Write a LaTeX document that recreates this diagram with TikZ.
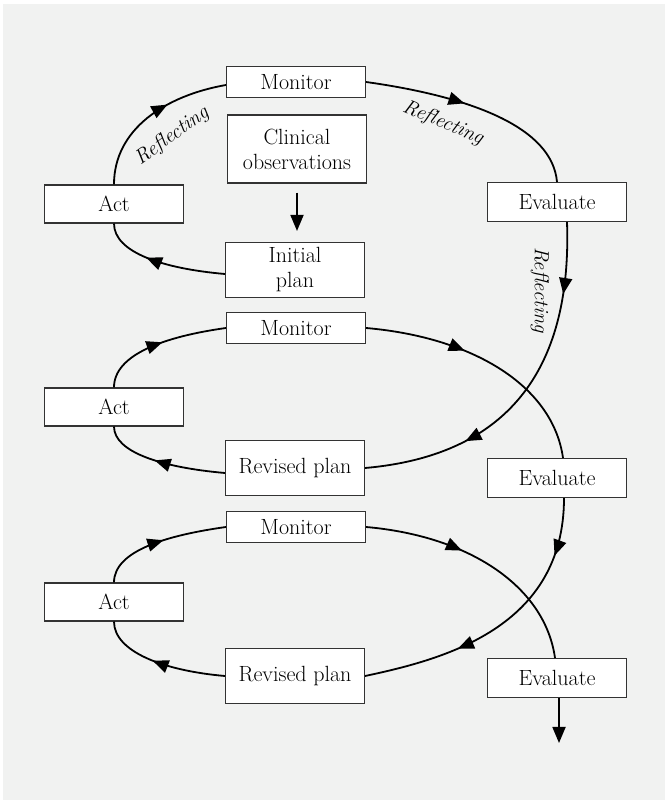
\documentclass[tikz,border=0pt]{standalone}
\usepackage{tikz}
\usetikzlibrary{arrows.meta,decorations.markings}
\definecolor{bggray}{RGB}{241,242,241}

\begin{document}
\begin{tikzpicture}[x=1pt,y=1pt,
    box/.style={draw=black!80,line width=1.1pt,fill=white,minimum width=139pt,inner sep=0pt,align=center,font=\fontsize{22}{25}\selectfont},
    cycleline/.style={line width=1.8pt},
    midarrow/.style={postaction={decorate,decoration={markings,mark=at position #1 with {\arrow{Triangle[width=13pt,length=16pt]}}}}},
    reflect/.style={font=\fontsize{20.5}{24}\selectfont\itshape}]

        \useasboundingbox[fill=white] (0,0) rectangle (665,800);
        \fill[bggray] (3,0) rectangle (665,796);

        \node[box,minimum height=31pt] (mon1) at (296,718) {Monitor};
        \node[box,minimum height=68pt] (obs) at (297,651) {Clinical\\observations};
        \node[box,minimum height=38pt] (act1) at (114,596) {Act};
        \node[box,minimum height=55pt] (init) at (295,530) {Initial\\plan};
        \node[box,minimum height=39pt] (eval1) at (557,598) {Evaluate};

        \node[box,minimum height=31pt] (mon2) at (296,472) {Monitor};
        \node[box,minimum height=38pt] (act2) at (114,393) {Act};
        \node[box,minimum height=55pt] (rev2) at (295,332) {Revised plan};
        \node[box,minimum height=39pt] (eval2) at (557,322) {Evaluate};

        \node[box,minimum height=31pt] (mon3) at (296,273) {Monitor};
        \node[box,minimum height=38pt] (act3) at (114,198) {Act};
        \node[box,minimum height=55pt] (rev3) at (295,124) {Revised plan};
        \node[box,minimum height=39pt] (eval3) at (557,122) {Evaluate};

        \coordinate (exit) at (559,57);

        \draw[cycleline,-{Triangle[width=13pt,length=16pt]},shorten <=9pt,shorten >=11pt] (obs.south) -- (obs.south |- init.north);

        % first loop
        \draw[cycleline,midarrow=0.62] (act1.north) to[out=90,in=190,out distance=55pt,in distance=62pt] ([yshift=-3pt]mon1.west);
        \draw[cycleline,midarrow=0.62] ([yshift=-4pt]init.west) to[out=175,in=-90,out distance=62pt,in distance=29pt] (act1.south);
        \draw[cycleline,midarrow=0.44] (mon1.east) to[out=-8,in=95,out distance=106pt,in distance=55pt] (eval1.north);
        \draw[cycleline,midarrow=0.2,midarrow=0.71] ([xshift=10pt]eval1.south) to[out=-88,in=5,out distance=140pt,in distance=150pt] (rev2.east);

        % second loop
        \draw[cycleline,midarrow=0.52] (act2.north) to[out=90,in=188,out distance=33pt,in distance=62pt] (mon2.west);
        \draw[cycleline,midarrow=0.56] ([yshift=-5pt]rev2.west) to[out=175,in=-90,out distance=62pt,in distance=26pt] (act2.south);
        \draw[cycleline,midarrow=0.4] (mon2.east) to[out=-5,in=98,out distance=109pt,in distance=72pt] ([xshift=6pt]eval2.north);
        \draw[cycleline,midarrow=0.2,midarrow=0.67] ([xshift=7pt]eval2.south) to[out=-90,in=12,out distance=130pt,in distance=80pt] (rev3.east);

        % third loop
        \draw[cycleline,midarrow=0.52] (act3.north) to[out=90,in=188,out distance=31pt,in distance=62pt] (mon3.west);
        \draw[cycleline,midarrow=0.56] (rev3.west) to[out=175,in=-90,out distance=62pt,in distance=30pt] (act3.south);
        \draw[cycleline,midarrow=0.4] (mon3.east) to[out=-5,in=98,out distance=104pt,in distance=72pt] ([xshift=-2pt]eval3.north);
        \draw[cycleline,-{Triangle[width=13pt,length=16pt]}] ([xshift=2pt]eval3.south) -- (exit);

        \node[reflect,rotate=36] (refl1) at (172,664) {Reflecting};
        \node[reflect,rotate=-23] (refl2) at (443,677) {Reflecting};
        \node[reflect,rotate=-90] (refl3) at (540,510) {Reflecting};
      \end{tikzpicture}
\end{document}
